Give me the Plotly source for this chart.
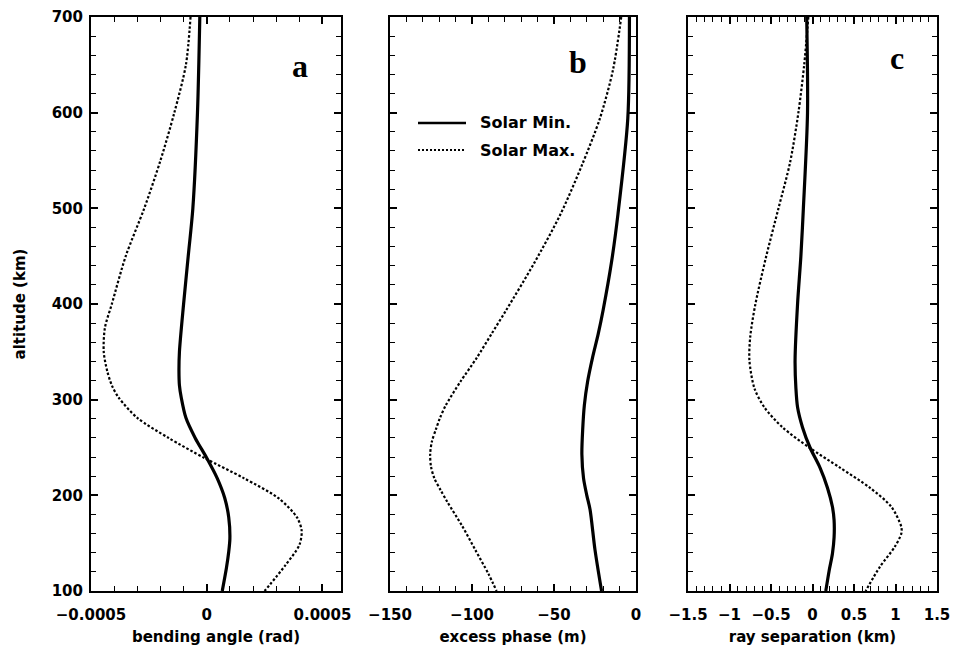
import plotly.graph_objects as go

# ---------------- data ----------------
alt_a_min = [700, 600, 500, 450, 400, 350, 330, 315, 302, 281, 260, 239, 218, 197, 177, 155, 141, 124, 100]
bend_min = [-0.00003, -0.00004, -0.00006, -0.00008, -0.0001, -0.000118, -0.00012, -0.000118, -0.00011,
            -0.00009, -0.00005, 0.0, 0.000045, 0.000078, 0.000095, 0.0001, 0.000095, 0.000085, 0.000067]

alt_a_max = [700, 650, 600, 550, 500, 450, 400, 375, 350, 330, 315, 302, 281, 260, 239, 218, 197, 177, 163,
             148, 127, 100]
bend_max = [-0.00007, -0.00009, -0.00014, -0.0002, -0.00027, -0.00035, -0.00041, -0.00044, -0.000445,
            -0.00043, -0.00041, -0.00038, -0.0003, -0.000165, -0.00001, 0.00016, 0.00031, 0.00039, 0.00041,
            0.0004, 0.00034, 0.00025]

alt_b_min = [700, 594, 494, 443, 394, 369, 344, 319, 294, 269, 243, 218, 200, 185, 143, 100]
phase_min = [-4, -5, -11, -15, -20, -23, -26.5, -29.5, -31.5, -32.5, -33, -32, -30, -28, -25, -21]

alt_b_max = [700, 645, 594, 545, 494, 443, 394, 369, 344, 319, 294, 281, 269, 256, 243, 230, 218, 205, 193,
             168, 143, 118, 100]
phase_max = [-9, -14, -22, -33, -46, -62, -79, -88, -97, -107, -116, -119.5, -122, -124.5, -125.5, -125,
             -123, -119, -115, -106, -98, -90, -85]

alt_c_min = [700, 600, 500, 450, 400, 341, 312, 292, 271, 250, 229, 208, 188, 174, 156, 139, 121, 100]
sep_min = [-0.07, -0.06, -0.11, -0.14, -0.18, -0.21, -0.2, -0.18, -0.12, -0.03, 0.09, 0.18, 0.24, 0.26,
           0.26, 0.24, 0.2, 0.16]

alt_c_max = [700, 650, 600, 548, 500, 449, 399, 366, 341, 312, 292, 271, 250, 229, 208, 188, 167, 160, 146,
             125, 100]
sep_max = [-0.05, -0.1, -0.17, -0.27, -0.41, -0.56, -0.69, -0.75, -0.76, -0.7, -0.58, -0.36, -0.04, 0.33,
           0.69, 0.95, 1.07, 1.07, 0.99, 0.81, 0.64]

series_names = ["Solar Min.", "Solar Max."]
panel_letters = ["a", "b", "c"]
x_titles = ["bending angle (rad)", "excess phase (m)", "ray separation (km)"]
y_title = "altitude (km)"
a_tickvals = [-0.0005, 0, 0.0005]
a_ticktext = ["\u22120.0005", "0", "0.0005"]

# ---------------- figure ----------------
W, H = 953, 646
fig = go.Figure()

solid = dict(color="black", width=3.2, shape="spline", smoothing=0.8)
dotted = dict(color="black", width=2.2, dash="2.5px,2px", shape="spline", smoothing=0.8)

pairs = [(bend_min, alt_a_min, bend_max, alt_a_max, "x", "y"),
         (phase_min, alt_b_min, phase_max, alt_b_max, "x2", "y2"),
         (sep_min, alt_c_min, sep_max, alt_c_max, "x3", "y3")]
for xmin, ymin, xmax, ymax, xa, ya in pairs:
    fig.add_trace(go.Scatter(x=xmin, y=ymin, mode="lines", line=solid, xaxis=xa, yaxis=ya,
                             name=series_names[0], showlegend=False))
    fig.add_trace(go.Scatter(x=xmax, y=ymax, mode="lines", line=dotted, xaxis=xa, yaxis=ya,
                             name=series_names[1], showlegend=False))

FONT = "DejaVu Sans, Arial, sans-serif"
tick_font = dict(family=FONT, size=15, color="black", weight="bold")
title_font = dict(family=FONT, size=15, color="black", weight="bold")

ydom = [1 - 591 / H, 1 - 17 / H]
xdoms = [[91 / W, 341 / W], [390 / W, 636 / W], [688 / W, 937 / W]]


def xaxis(dom, rng, dtick, minor, title, anchor):
    return dict(domain=dom, range=rng, dtick=dtick, tick0=0, ticks="inside", ticklen=7, tickwidth=1.5,
                tickcolor="black",
                showline=True, linecolor="black", linewidth=2, mirror="ticks", showgrid=False,
                zeroline=False, tickfont=tick_font, anchor=anchor, automargin=False,
                ticklabelstandoff=9,
                title=dict(text=title, font=title_font, standoff=9),
                minor=dict(dtick=minor, tick0=0, ticks="inside", ticklen=5, tickwidth=1.2,
                           tickcolor="black", showgrid=False))


def yaxis(anchor, labels):
    return dict(domain=ydom, range=[100, 700], dtick=100, ticks="inside", ticklen=7, tickwidth=1.5,
                tickcolor="black",
                showline=True, linecolor="black", linewidth=2, mirror="ticks", showgrid=False,
                zeroline=False, tickfont=tick_font, anchor=anchor, showticklabels=labels,
                automargin=False, ticklabelstandoff=3,
                minor=dict(dtick=20, tick0=0, ticks="inside", ticklen=5, tickwidth=1.2,
                           tickcolor="black", showgrid=False))


xa1 = xaxis(xdoms[0], [-0.0005, 0.00058], 0.0005, 0.0001, x_titles[0], "y")
xa1.update(tickmode="array", tickvals=a_tickvals, ticktext=a_ticktext)

fig.update_layout(
    width=W, height=H,
    margin=dict(l=0, r=0, t=0, b=0),
    paper_bgcolor="white", plot_bgcolor="white",
    xaxis=xa1,
    xaxis2=xaxis(xdoms[1], [-150, 0], 50, 10, x_titles[1], "y2"),
    xaxis3=xaxis(xdoms[2], [-1.5, 1.5], 0.5, 0.1, x_titles[2], "y3"),
    yaxis=dict(yaxis("x", True), title=dict(text=y_title, font=title_font, standoff=22)),
    yaxis2=yaxis("x2", False),
    yaxis3=yaxis("x3", False),
    showlegend=False,
)

# legend (key lines + labels inside panel b)
legend_rows = [(123, dict(color="black", width=2.5)), (150, dict(color="black", width=1.8, dash="2px,2px"))]
for (py, lstyle), name in zip(legend_rows, series_names):
    fig.add_shape(type="line", xref="paper", yref="paper", x0=418 / W, x1=466 / W,
                  y0=1 - py / H, y1=1 - py / H, line=lstyle)
    fig.add_annotation(x=478 / W, y=1 - py / H, xref="paper", yref="paper", text=name, showarrow=False,
                       font=dict(family=FONT, size=16, color="black", weight="bold"),
                       xanchor="left", yanchor="middle")

letter_pos = [(300, 66), (578, 62), (897, 58)]
for letter, (px, py) in zip(panel_letters, letter_pos):
    fig.add_annotation(x=px / W, y=1 - py / H, xref="paper", yref="paper", text=letter, showarrow=False,
                       font=dict(family="Liberation Serif, Times New Roman, serif", size=32, color="black",
                                 weight="bold"),
                       xanchor="center", yanchor="middle")

fig.write_html("out.html")
